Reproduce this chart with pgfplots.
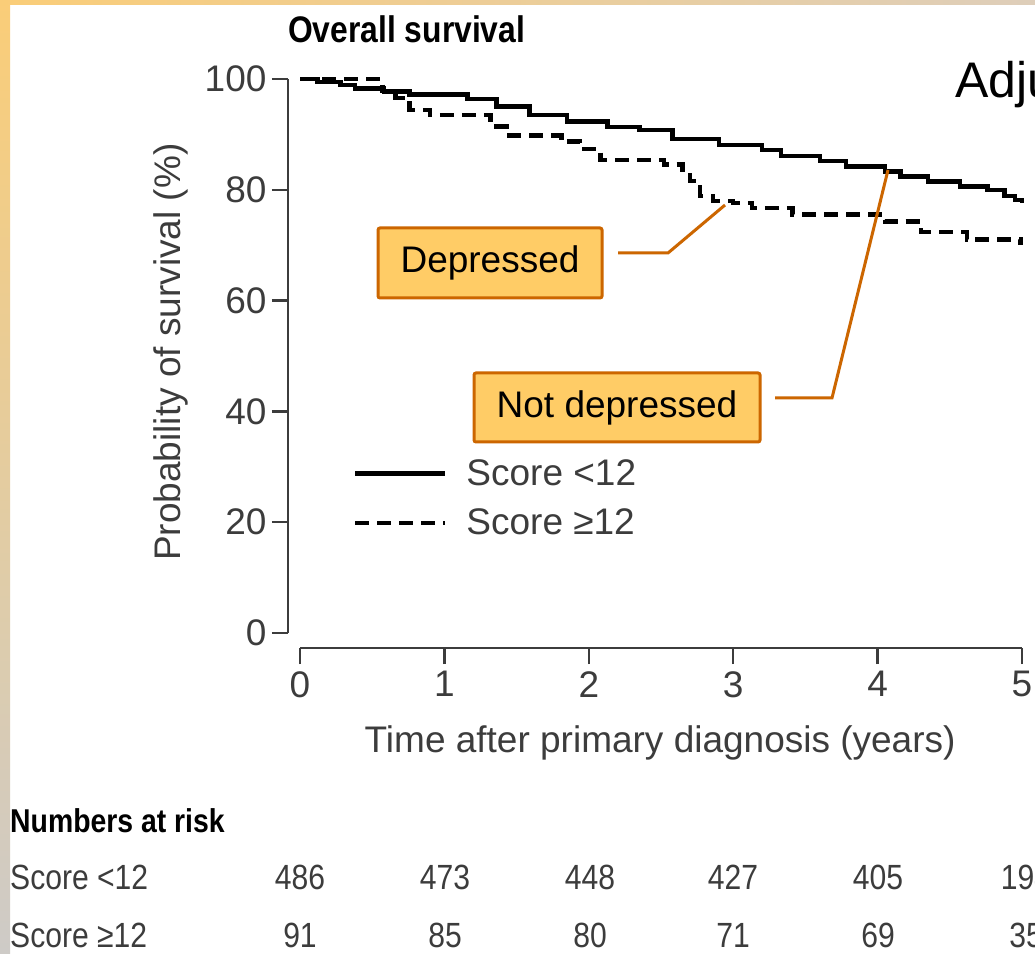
\documentclass[border=0pt]{standalone}
\usepackage{pgfplots}
\pgfplotsset{compat=1.18}
\usepackage{fontspec}
\setmainfont{Liberation Sans}
\newfontfamily\condfont[FakeStretch=0.86]{Liberation Sans}
\definecolor{gold}{RGB}{250,205,120}
\definecolor{grayb}{RGB}{206,203,199}
\definecolor{topright}{RGB}{222,206,186}
\definecolor{boxfill}{RGB}{255,204,102}
\definecolor{boxline}{RGB}{204,102,0}
\definecolor{axisgray}{RGB}{60,60,60}
\newcommand\fs[1]{\fontsize{#1}{#1}\selectfont}

\pgfplotstableread{
x y
0.00 100
0.12 99.5
0.28 98.9
0.38 98.3
0.58 97.7
0.76 97.2
1.16 96.4
1.36 95.0
1.59 93.5
1.85 92.3
2.13 91.3
2.35 90.8
2.58 89.2
2.90 88.1
3.20 87.2
3.33 86.1
3.60 85.2
3.78 84.2
4.05 83.3
4.16 82.4
4.35 81.5
4.57 80.6
4.76 80.0
4.88 78.9
4.95 78.2
5.00 77.7
}\notdep

\pgfplotstableread{
x y
0.00 100
0.57 97.8
0.66 96.6
0.76 94.4
0.90 93.5
1.32 91.4
1.43 89.8
1.81 88.7
1.94 87.4
2.08 85.4
2.52 84.6
2.65 83.6
2.70 81.6
2.77 78.9
2.86 78.0
3.00 77.6
3.13 76.7
3.41 75.5
4.05 74.3
4.30 72.4
4.62 71.0
4.99 70.0
}\dep

\begin{document}
\begin{tikzpicture}
\useasboundingbox (0pt,0pt) rectangle (1035pt,953pt);
\fill[white] (0pt,0pt) rectangle (1035pt,953pt);
\shade[top color=gold, bottom color=grayb] (0pt,0pt) rectangle (10pt,953pt);
\shade[left color=gold, right color=topright] (0pt,948pt) rectangle (1035pt,953pt);

\begin{axis}[
  at={(288pt,305pt)}, anchor=south west,
  scale only axis, width=734pt, height=569pt,
  xmin=-0.0831, xmax=5, ymin=-2.708, ymax=100,
  axis x line*=bottom, axis y line*=left,
  axis line style={draw=none},
  xtick={0,1,2,3,4,5}, ytick={0,20,40,60,80,100},
  tick align=outside, major tick length=16pt,
  tick style={axisgray, line width=2.5pt},
  /pgf/number format/assume math mode=true,
  ticklabel style={font=\fs{37}, text=axisgray},
  xticklabel style={yshift=-4pt},
  yticklabel style={xshift=-2pt},
  xlabel={Time after primary diagnosis (years)},
  ylabel={Probability of survival (\%)},
  label style={font=\fs{37}, text=axisgray},
  xlabel style={at={(axis description cs:0.507,-0.167)}, anchor=center},
  ylabel style={at={(axis description cs:-0.159,0.52)}, anchor=center, rotate=0},
  clip=false,
  legend cell align=left,
  legend image code/.code={\path[draw=none] (0pt,0pt) -- (111pt,0pt); \draw[#1] (0pt,12pt) -- (90pt,12pt);},
  legend style={at={(axis cs:0.367,31.3)}, anchor=north west, draw=none, fill=none,
    font=\fs{37}, text=axisgray, row sep=22pt, inner sep=0pt,
    nodes={inner sep=0pt, anchor=base west}, column sep=0pt},
]
\addplot[const plot, black, line width=4.5pt] table {\notdep};
\addlegendentry{Score <12}
\addplot[const plot, black, line width=4.5pt, dash pattern=on 14pt off 8pt] table {\dep};
\addlegendentry{Score ≥12}

\draw[axisgray, line width=2.5pt] (axis cs:0,-2.708) -- (axis cs:5,-2.708);
\draw[axisgray, line width=2.5pt] (axis cs:-0.0831,0) -- (axis cs:-0.0831,100);
\end{axis}

% title
\node[anchor=west, inner sep=0pt] at (288pt,924pt) {\condfont\bfseries\fs{37}Overall survival};
% Adj
\node[anchor=west, inner sep=0pt] at (955pt,868pt) {\fs{50}Adjusted};

% callouts
\draw[boxline, line width=3pt] (618pt,700pt) -- (668pt,700pt) -- (725pt,748pt);
\draw[boxline, line width=3pt] (775pt,555pt) -- (832pt,555pt) -- (888pt,783pt);
\node[draw=boxline, fill=boxfill, line width=3pt, rounded corners=2pt,
  minimum width=224pt, minimum height=70pt, inner sep=0pt] at (490pt,690pt) {\fs{37}Depressed};
\node[draw=boxline, fill=boxfill, line width=3pt, rounded corners=2pt,
  minimum width=286pt, minimum height=69pt, inner sep=0pt] at (617pt,545.5pt) {\fs{37}Not depressed};

% numbers at risk
\node[anchor=west, inner sep=0pt] at (10pt,132pt) {\condfont\bfseries\fs{33}Numbers at risk};
\node[anchor=west, inner sep=0pt, text=axisgray] at (10pt,76pt) {\condfont\fs{35}Score <12};
\node[anchor=west, inner sep=0pt, text=axisgray] at (10pt,18pt) {\condfont\fs{35}Score ≥12};
\foreach \xx/\a/\b in {300/486/91, 445/473/85, 590/448/80, 733/427/71, 878/405/69, 1026/194/35} {
  \node[inner sep=0pt, text=axisgray] at (\xx pt,76pt) {\condfont\fs{35}\a};
  \node[inner sep=0pt, text=axisgray] at (\xx pt,18pt) {\condfont\fs{35}\b};
}
\end{tikzpicture}
\end{document}
